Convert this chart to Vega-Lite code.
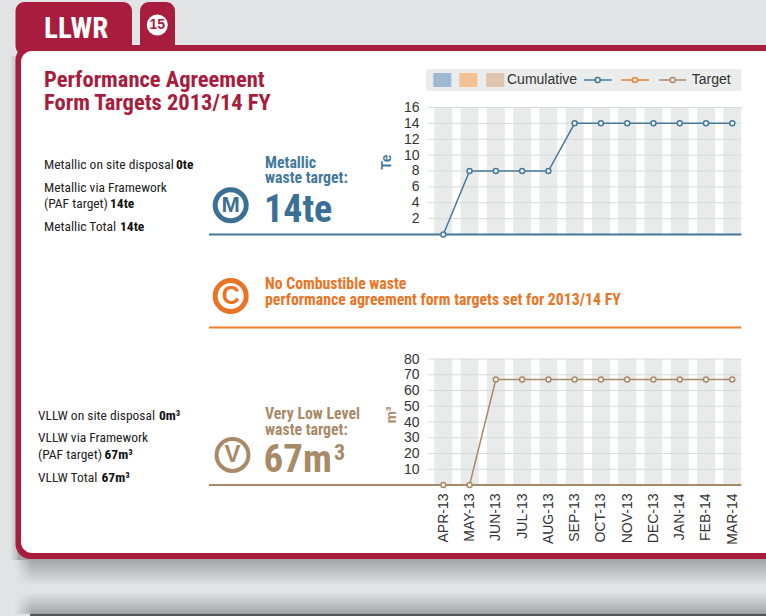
{"$schema":"https://vega.github.io/schema/vega-lite/v6.json","width":766,"height":616,"padding":0,"autosize":{"type":"none"},"background":"#e1e3e5","config":{"view":{"stroke":null},"text":{"font":"Roboto Condensed, Roboto","align":"left","baseline":"alphabetic"},"axis":{"domain":false,"ticks":false,"tickSize":0,"grid":false,"labelFont":"Liberation Sans","labelFontSize":14,"labelColor":"#333333"}},
"data":{"values":[{"m":1,"month":"APR-13","te":0,"vllw":0},{"m":2,"month":"MAY-13","te":8,"vllw":0},{"m":3,"month":"JUN-13","te":8,"vllw":67},{"m":4,"month":"JUL-13","te":8,"vllw":67},{"m":5,"month":"AUG-13","te":8,"vllw":67},{"m":6,"month":"SEP-13","te":14,"vllw":67},{"m":7,"month":"OCT-13","te":14,"vllw":67},{"m":8,"month":"NOV-13","te":14,"vllw":67},{"m":9,"month":"DEC-13","te":14,"vllw":67},{"m":10,"month":"JAN-14","te":14,"vllw":67},{"m":11,"month":"FEB-14","te":14,"vllw":67},{"m":12,"month":"MAR-14","te":14,"vllw":67}]},
"resolve":{"scale":{"y":"independent"},"axis":{"y":"independent"}},
"layer":[
{"layer":[
{"data":{"values":[{}]},"mark":{"type":"rect","fill":{"gradient":"linear","x1":0,"y1":0,"x2":0,"y2":1,"stops":[{"offset":0,"color":"#a2a4a6"},{"offset":0.22,"color":"#a2a4a6"},{"offset":1,"color":"#e1e3e5"}]}},"encoding":{"x":{"datum":-15.3,"type":"quantitative","scale":{"domain":[-15.875,13.284],"nice":false,"zero":false,"padding":0}},"x2":{"datum":14.58},"y":{"datum":-40,"type":"quantitative","scale":{"domain":[-48.063,29.543],"nice":false,"zero":false}},"y2":{"datum":-44.2}}},
{"data":{"values":[{}]},"mark":{"type":"rect","fill":{"gradient":"linear","x1":0,"y1":0,"x2":1,"y2":0,"stops":[{"offset":0,"color":"#e1e3e5"},{"offset":1,"color":"#b8babc"}]}},"encoding":{"x":{"datum":-15.5,"type":"quantitative"},"x2":{"datum":-15.2},"y":{"datum":22.5,"type":"quantitative"},"y2":{"datum":-41}}},
{"data":{"values":[{}]},"mark":{"type":"rect","fill":{"gradient":"linear","x1":0,"y1":0,"x2":0,"y2":1,"stops":[{"offset":0,"color":"#e1e3e5"},{"offset":1,"color":"#a3a5a7"}]}},"encoding":{"x":{"datum":-15.3,"type":"quantitative"},"x2":{"datum":14.58},"y":{"datum":-45.0,"type":"quantitative"},"y2":{"datum":-47.77}}},
{"data":{"values":[{}]},"mark":{"type":"rect","fill":{"gradient":"linear","x1":0,"y1":0,"x2":1,"y2":0,"stops":[{"offset":0,"color":"rgba(225,227,229,1)"},{"offset":1,"color":"rgba(225,227,229,0)"}]}},"encoding":{"x":{"datum":-15.3,"type":"quantitative"},"x2":{"datum":-14.65},"y":{"datum":-41,"type":"quantitative"},"y2":{"datum":-49}}},
{"data":{"values":[{}]},"mark":{"type":"rect","fill":"#56575a"},"encoding":{"x":{"datum":-14.73,"type":"quantitative"},"x2":{"datum":14.58},"y":{"datum":-47.77,"type":"quantitative"},"y2":{"datum":-49}}},
{"data":{"values":[{}]},"mark":{"type":"rect","fill":"#a81c3d","cornerRadius":9},"encoding":{"x":{"datum":-15.285,"type":"quantitative"},"x2":{"datum":-10.85},"y":{"datum":29.29,"type":"quantitative"},"y2":{"datum":22.614}}},
{"data":{"values":[{}]},"mark":{"type":"rect","fill":"#a81c3d","cornerRadius":9},"encoding":{"x":{"datum":-10.545,"type":"quantitative"},"x2":{"datum":-9.213},"y":{"datum":29.29,"type":"quantitative"},"y2":{"datum":22.614}}},
{"data":{"values":[{}]},"mark":{"type":"rect","fill":"#a81c3d","cornerRadius":15},"encoding":{"x":{"datum":-15.285,"type":"quantitative"},"x2":{"datum":14.58},"y":{"datum":23.874,"type":"quantitative"},"y2":{"datum":-40.882}}},
{"data":{"values":[{}]},"mark":{"type":"rect","fill":"#ffffff","cornerRadius":11},"encoding":{"x":{"datum":-15.076,"type":"quantitative"},"x2":{"datum":14.58},"y":{"datum":23.118,"type":"quantitative"},"y2":{"datum":-40.126}}},
{"data":{"values":[{"t":"LLWR"}]},"mark":{"type":"text","fontSize":29,"fontWeight":"bold","fill":"#ffffff"},"encoding":{"x":{"datum":-14.2,"type":"quantitative"},"y":{"datum":24.756,"type":"quantitative"},"text":{"field":"t"}}},
{"data":{"values":[{}]},"mark":{"type":"point","filled":true,"fill":"#ffffff","opacity":1,"size":440},"encoding":{"x":{"datum":-9.887,"type":"quantitative"},"y":{"datum":26.39,"type":"quantitative"}}},
{"data":{"values":[{"t":"15"}]},"mark":{"type":"text","font":"Liberation Sans","fontSize":14,"fontWeight":"bold","fill":"#a81c3d","align":"center","baseline":"middle"},"encoding":{"x":{"datum":-9.887,"type":"quantitative"},"y":{"datum":26.39,"type":"quantitative"},"text":{"field":"t"}}},
{"data":{"values":[{"t":"Performance Agreement"}]},"mark":{"type":"text","fontSize":22.5,"fontWeight":"bold","fill":"#a81c3d"},"encoding":{"x":{"datum":-14.2,"type":"quantitative"},"y":{"datum":18.58,"type":"quantitative"},"text":{"field":"t"}}},
{"data":{"values":[{"t":"Form Targets 2013/14 FY"}]},"mark":{"type":"text","fontSize":22.5,"fontWeight":"bold","fill":"#a81c3d"},"encoding":{"x":{"datum":-14.2,"type":"quantitative"},"y":{"datum":15.685,"type":"quantitative"},"text":{"field":"t"}}},
{"data":{"values":[{}]},"mark":{"type":"rect","fill":"#ebecec"},"encoding":{"x":{"datum":0.341,"type":"quantitative"},"x2":{"datum":12.344},"y":{"datum":20.85,"type":"quantitative"},"y2":{"datum":18.079}}},
{"data":{"values":[{}]},"mark":{"type":"rect","fill":"#a0b9d0"},"encoding":{"x":{"datum":0.619,"type":"quantitative"},"x2":{"datum":1.305},"y":{"datum":20.346,"type":"quantitative"},"y2":{"datum":18.583}}},
{"data":{"values":[{}]},"mark":{"type":"rect","fill":"#f4c096"},"encoding":{"x":{"datum":1.609,"type":"quantitative"},"x2":{"datum":2.294},"y":{"datum":20.346,"type":"quantitative"},"y2":{"datum":18.583}}},
{"data":{"values":[{}]},"mark":{"type":"rect","fill":"#dcc6b2"},"encoding":{"x":{"datum":2.637,"type":"quantitative"},"x2":{"datum":3.322},"y":{"datum":20.346,"type":"quantitative"},"y2":{"datum":18.583}}},
{"data":{"values":[{"t":"Cumulative"}]},"mark":{"type":"text","font":"Liberation Sans","fontSize":14,"fill":"#333333"},"encoding":{"x":{"datum":3.425,"type":"quantitative"},"y":{"datum":18.96,"type":"quantitative"},"text":{"field":"t"}}},
{"data":{"values":[{"t":"Target"}]},"mark":{"type":"text","font":"Liberation Sans","fontSize":14,"fill":"#333333"},"encoding":{"x":{"datum":10.456,"type":"quantitative"},"y":{"datum":18.96,"type":"quantitative"},"text":{"field":"t"}}},
{"data":{"values":[{}]},"mark":{"type":"rule","stroke":"#44799c","strokeWidth":1.5},"encoding":{"x":{"datum":6.356,"type":"quantitative"},"x2":{"datum":7.41},"y":{"datum":19.465,"type":"quantitative"}}},
{"data":{"values":[{}]},"mark":{"type":"rule","stroke":"#ee7e2d","strokeWidth":1.5},"encoding":{"x":{"datum":7.776,"type":"quantitative"},"x2":{"datum":8.83},"y":{"datum":19.465,"type":"quantitative"}}},
{"data":{"values":[{}]},"mark":{"type":"rule","stroke":"#a98a68","strokeWidth":1.5},"encoding":{"x":{"datum":9.211,"type":"quantitative"},"x2":{"datum":10.25},"y":{"datum":19.465,"type":"quantitative"}}},
{"data":{"values":[{}]},"mark":{"type":"point","filled":true,"fill":"#ffffff","stroke":"#44799c","strokeWidth":1.5,"opacity":1,"size":25},"encoding":{"x":{"datum":6.877,"type":"quantitative"},"y":{"datum":19.465,"type":"quantitative"}}},
{"data":{"values":[{}]},"mark":{"type":"point","filled":true,"fill":"#ffffff","stroke":"#ee7e2d","strokeWidth":1.5,"opacity":1,"size":25},"encoding":{"x":{"datum":8.297,"type":"quantitative"},"y":{"datum":19.465,"type":"quantitative"}}},
{"data":{"values":[{}]},"mark":{"type":"point","filled":true,"fill":"#ffffff","stroke":"#a98a68","strokeWidth":1.5,"opacity":1,"size":25},"encoding":{"x":{"datum":9.732,"type":"quantitative"},"y":{"datum":19.465,"type":"quantitative"}}},
{"data":{"values":[{"t":"Metallic on site disposal"}]},"mark":{"type":"text","fontSize":13.5,"fill":"#222222"},"encoding":{"x":{"datum":-14.2,"type":"quantitative"},"y":{"datum":8.252,"type":"quantitative"},"text":{"field":"t"}}},
{"data":{"values":[{"t":"0te"}]},"mark":{"type":"text","fontSize":13.5,"fontWeight":"bold","fill":"#111111"},"encoding":{"x":{"datum":-9.175,"type":"quantitative"},"y":{"datum":8.252,"type":"quantitative"},"text":{"field":"t"}}},
{"data":{"values":[{"t":"Metallic via Framework"}]},"mark":{"type":"text","fontSize":13.5,"fill":"#222222"},"encoding":{"x":{"datum":-14.2,"type":"quantitative"},"y":{"datum":5.354,"type":"quantitative"},"text":{"field":"t"}}},
{"data":{"values":[{"t":"(PAF target)"}]},"mark":{"type":"text","fontSize":13.5,"fill":"#222222"},"encoding":{"x":{"datum":-14.2,"type":"quantitative"},"y":{"datum":3.339,"type":"quantitative"},"text":{"field":"t"}}},
{"data":{"values":[{"t":"14te"}]},"mark":{"type":"text","fontSize":13.5,"fontWeight":"bold","fill":"#111111"},"encoding":{"x":{"datum":-11.688,"type":"quantitative"},"y":{"datum":3.339,"type":"quantitative"},"text":{"field":"t"}}},
{"data":{"values":[{"t":"Metallic Total"}]},"mark":{"type":"text","fontSize":13.5,"fill":"#222222"},"encoding":{"x":{"datum":-14.2,"type":"quantitative"},"y":{"datum":0.441,"type":"quantitative"},"text":{"field":"t"}}},
{"data":{"values":[{"t":"14te"}]},"mark":{"type":"text","fontSize":13.5,"fontWeight":"bold","fill":"#111111"},"encoding":{"x":{"datum":-11.307,"type":"quantitative"},"y":{"datum":0.441,"type":"quantitative"},"text":{"field":"t"}}},
{"data":{"values":[{"t":"Metallic"}]},"mark":{"type":"text","fontSize":15.8,"fontWeight":"bold","fill":"#44799c"},"encoding":{"x":{"datum":-5.787,"type":"quantitative"},"y":{"datum":8.378,"type":"quantitative"},"text":{"field":"t"}}},
{"data":{"values":[{"t":"waste target:"}]},"mark":{"type":"text","fontSize":15.8,"fontWeight":"bold","fill":"#44799c"},"encoding":{"x":{"datum":-5.787,"type":"quantitative"},"y":{"datum":6.425,"type":"quantitative"},"text":{"field":"t"}}},
{"data":{"values":[{"t":"14te"}]},"mark":{"type":"text","fontSize":38,"fontWeight":"bold","fill":"#3b7096"},"encoding":{"x":{"datum":-5.825,"type":"quantitative"},"y":{"datum":1.613,"type":"quantitative"},"text":{"field":"t"}}},
{"data":{"values":[{}]},"mark":{"type":"point","stroke":"#3b7096","strokeWidth":5,"opacity":1,"size":962},"encoding":{"x":{"datum":-7.093,"type":"quantitative"},"y":{"datum":3.679,"type":"quantitative"}}},
{"data":{"values":[{"t":"M"}]},"mark":{"type":"text","font":"Liberation Sans","fontSize":22,"fontWeight":"bold","fill":"#3b7096","align":"center","baseline":"middle"},"encoding":{"x":{"datum":-7.093,"type":"quantitative"},"y":{"datum":3.679,"type":"quantitative"},"text":{"field":"t"}}},
{"data":{"values":[{"t":"Te"}]},"mark":{"type":"text","font":"Liberation Sans","fontSize":14,"fontWeight":"bold","fill":"#44799c","angle":270,"align":"center","baseline":"middle"},"encoding":{"x":{"datum":-1.143,"type":"quantitative"},"y":{"datum":9.134,"type":"quantitative"},"text":{"field":"t"}}},
{"data":{"values":[{}]},"mark":{"type":"point","stroke":"#ea7425","strokeWidth":5,"opacity":1,"size":962},"encoding":{"x":{"datum":-7.093,"type":"quantitative"},"y":{"datum":-7.748,"type":"quantitative"}}},
{"data":{"values":[{"t":"C"}]},"mark":{"type":"text","font":"Liberation Sans","fontSize":25,"fontWeight":"bold","fill":"#ea7425","align":"center","baseline":"middle"},"encoding":{"x":{"datum":-7.093,"type":"quantitative"},"y":{"datum":-7.748,"type":"quantitative"},"text":{"field":"t"}}},
{"data":{"values":[{"t":"No Combustible waste"}]},"mark":{"type":"text","fontSize":15.8,"fontWeight":"bold","fill":"#ea7425"},"encoding":{"x":{"datum":-5.787,"type":"quantitative"},"y":{"datum":-6.866,"type":"quantitative"},"text":{"field":"t"}}},
{"data":{"values":[{"t":"performance agreement form targets set for 2013/14 FY"}]},"mark":{"type":"text","fontSize":15.8,"fontWeight":"bold","fill":"#ea7425"},"encoding":{"x":{"datum":-5.787,"type":"quantitative"},"y":{"datum":-8.882,"type":"quantitative"},"text":{"field":"t"}}},
{"data":{"values":[{}]},"mark":{"type":"rule","stroke":"#ee7e2d","strokeWidth":2},"encoding":{"x":{"datum":-7.919,"type":"quantitative"},"x2":{"datum":12.344},"y":{"datum":-11.717,"type":"quantitative"}}},
{"mark":{"type":"bar","orient":"vertical","size":18,"fill":"#e9ebeb"},"encoding":{"x":{"field":"m","type":"quantitative"},"y":{"datum":16,"type":"quantitative"},"y2":{"datum":0}}},
{"data":{"values":[{"g":2},{"g":4},{"g":6},{"g":8},{"g":10},{"g":12},{"g":14},{"g":16}]},"mark":{"type":"rule","stroke":"#d8dada","strokeWidth":1},"encoding":{"x":{"datum":0.418,"type":"quantitative"},"x2":{"datum":12.344},"y":{"field":"g","type":"quantitative"}}},
{"data":{"values":[{}]},"mark":{"type":"rule","stroke":"#44799c","strokeWidth":2},"encoding":{"x":{"datum":-7.919,"type":"quantitative"},"x2":{"datum":12.344},"y":{"datum":0,"type":"quantitative"}}},
{"mark":{"type":"line","stroke":"#44799c","strokeWidth":1.5},"encoding":{"x":{"field":"m","type":"quantitative"},"y":{"field":"te","type":"quantitative","axis":{"orient":"left","offset":-428,"values":[2,4,6,8,10,12,14,16],"labelPadding":9,"title":null,"zindex":1}}}},
{"mark":{"type":"point","filled":true,"fill":"#ffffff","stroke":"#44799c","strokeWidth":1.5,"opacity":1,"size":25},"encoding":{"x":{"field":"m","type":"quantitative"},"y":{"field":"te","type":"quantitative"}}}
]},
{"layer":[
{"mark":{"type":"bar","orient":"vertical","size":18,"fill":"#e9ebeb"},"encoding":{"x":{"field":"m","type":"quantitative"},"y":{"datum":80,"type":"quantitative","scale":{"domain":[-83.17,307.94],"nice":false,"zero":false}},"y2":{"datum":0}}},
{"data":{"values":[{"g":10},{"g":20},{"g":30},{"g":40},{"g":50},{"g":60},{"g":70},{"g":80}]},"mark":{"type":"rule","stroke":"#d8dada","strokeWidth":1},"encoding":{"x":{"datum":0.418,"type":"quantitative"},"x2":{"datum":12.344},"y":{"field":"g","type":"quantitative"}}},
{"data":{"values":[{}]},"mark":{"type":"rule","stroke":"#a98a68","strokeWidth":2},"encoding":{"x":{"datum":-7.919,"type":"quantitative"},"x2":{"datum":12.344},"y":{"datum":0,"type":"quantitative"}}},
{"mark":{"type":"line","stroke":"#a98a68","strokeWidth":1.5},"encoding":{"x":{"field":"m","type":"quantitative","axis":{"orient":"bottom","offset":-131,"values":[1,2,3,4,5,6,7,8,9,10,11,12],"labelExpr":"['APR-13','MAY-13','JUN-13','JUL-13','AUG-13','SEP-13','OCT-13','NOV-13','DEC-13','JAN-14','FEB-14','MAR-14'][datum.value-1]","labelAngle":270,"labelAlign":"right","labelBaseline":"middle","labelPadding":8,"labelOverlap":false,"labelFlush":false,"labelBound":false,"title":null,"zindex":1}},"y":{"field":"vllw","type":"quantitative","axis":{"orient":"left","offset":-428,"values":[10,20,30,40,50,60,70,80],"labelPadding":9,"title":null,"zindex":1}}}},
{"mark":{"type":"point","filled":true,"fill":"#ffffff","stroke":"#a98a68","strokeWidth":1.5,"opacity":1,"size":25},"encoding":{"x":{"field":"m","type":"quantitative"},"y":{"field":"vllw","type":"quantitative"}}},
{"data":{"values":[{"t":"VLLW on site disposal"}]},"mark":{"type":"text","fontSize":13.5,"fill":"#222222"},"encoding":{"x":{"datum":-14.428,"type":"quantitative"},"y":{"datum":41.27,"type":"quantitative"},"text":{"field":"t"}}},
{"data":{"values":[{"t":"0m³"}]},"mark":{"type":"text","fontSize":13.5,"fontWeight":"bold","fill":"#111111"},"encoding":{"x":{"datum":-9.822,"type":"quantitative"},"y":{"datum":41.27,"type":"quantitative"},"text":{"field":"t"}}},
{"data":{"values":[{"t":"VLLW via Framework"}]},"mark":{"type":"text","fontSize":13.5,"fill":"#222222"},"encoding":{"x":{"datum":-14.428,"type":"quantitative"},"y":{"datum":27.3,"type":"quantitative"},"text":{"field":"t"}}},
{"data":{"values":[{"t":"(PAF target)"}]},"mark":{"type":"text","fontSize":13.5,"fill":"#222222"},"encoding":{"x":{"datum":-14.428,"type":"quantitative"},"y":{"datum":16.51,"type":"quantitative"},"text":{"field":"t"}}},
{"data":{"values":[{"t":"67m³"}]},"mark":{"type":"text","fontSize":13.5,"fontWeight":"bold","fill":"#111111"},"encoding":{"x":{"datum":-11.897,"type":"quantitative"},"y":{"datum":16.51,"type":"quantitative"},"text":{"field":"t"}}},
{"data":{"values":[{"t":"VLLW Total"}]},"mark":{"type":"text","fontSize":13.5,"fill":"#222222"},"encoding":{"x":{"datum":-14.428,"type":"quantitative"},"y":{"datum":1.9,"type":"quantitative"},"text":{"field":"t"}}},
{"data":{"values":[{"t":"67m³"}]},"mark":{"type":"text","fontSize":13.5,"fontWeight":"bold","fill":"#111111"},"encoding":{"x":{"datum":-12.011,"type":"quantitative"},"y":{"datum":1.9,"type":"quantitative"},"text":{"field":"t"}}},
{"data":{"values":[{"t":"Very Low Level"}]},"mark":{"type":"text","fontSize":15.8,"fontWeight":"bold","fill":"#a98a68"},"encoding":{"x":{"datum":-5.787,"type":"quantitative"},"y":{"datum":41.9,"type":"quantitative"},"text":{"field":"t"}}},
{"data":{"values":[{"t":"waste target:"}]},"mark":{"type":"text","fontSize":15.8,"fontWeight":"bold","fill":"#a98a68"},"encoding":{"x":{"datum":-5.787,"type":"quantitative"},"y":{"datum":31.75,"type":"quantitative"},"text":{"field":"t"}}},
{"data":{"values":[{"t":"67m"}]},"mark":{"type":"text","fontSize":39,"fontWeight":"bold","fill":"#a98a68"},"encoding":{"x":{"datum":-5.844,"type":"quantitative"},"y":{"datum":8.25,"type":"quantitative"},"text":{"field":"t"}}},
{"data":{"values":[{"t":"3"}]},"mark":{"type":"text","fontSize":22,"fontWeight":"bold","fill":"#a98a68"},"encoding":{"x":{"datum":-3.161,"type":"quantitative"},"y":{"datum":15.87,"type":"quantitative"},"text":{"field":"t"}}},
{"data":{"values":[{}]},"mark":{"type":"point","stroke":"#a98a68","strokeWidth":4,"opacity":1,"size":1018},"encoding":{"x":{"datum":-7.024,"type":"quantitative"},"y":{"datum":19.05,"type":"quantitative"}}},
{"data":{"values":[{"t":"V"}]},"mark":{"type":"text","font":"Liberation Sans","fontSize":24,"fontWeight":"bold","fill":"#a98a68","align":"center","baseline":"middle"},"encoding":{"x":{"datum":-7.024,"type":"quantitative"},"y":{"datum":19.05,"type":"quantitative"},"text":{"field":"t"}}},
{"data":{"values":[{"t":"m³"}]},"mark":{"type":"text","font":"Liberation Sans","fontSize":14,"fontWeight":"bold","fill":"#a98a68","angle":270,"align":"center","baseline":"middle"},"encoding":{"x":{"datum":-0.953,"type":"quantitative"},"y":{"datum":44.44,"type":"quantitative"},"text":{"field":"t"}}}
]}
]}
